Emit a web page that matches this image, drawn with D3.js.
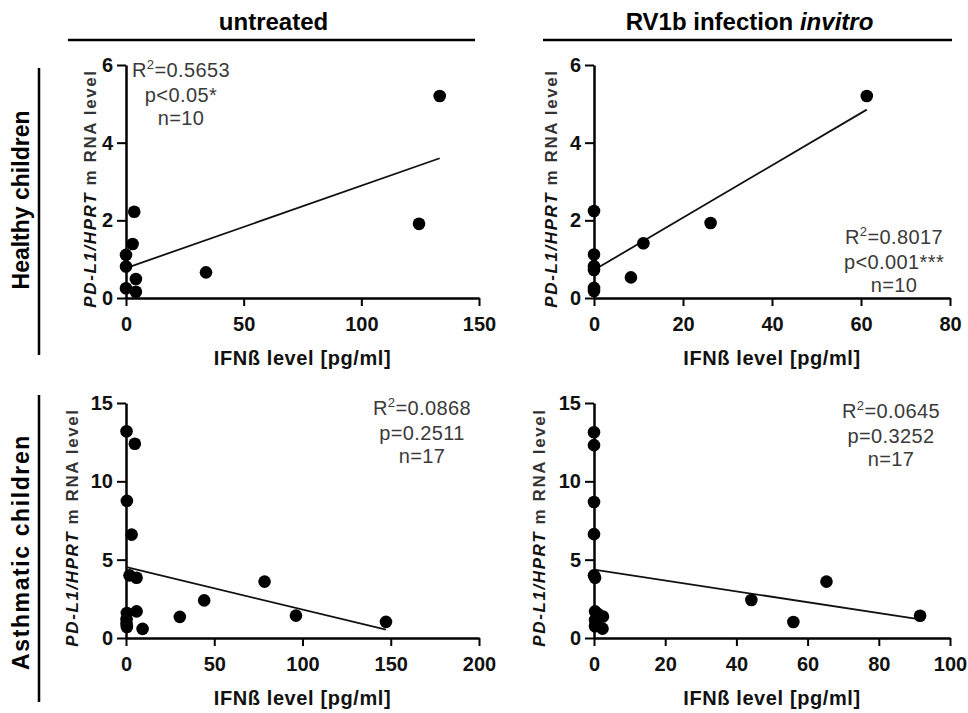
<!DOCTYPE html>
<html>
<head>
<meta charset="utf-8">
<script src="https://cdn.jsdelivr.net/npm/d3@7"></script>
<style>
  body { margin: 0; background: #fff; }
  svg { display: block; font-family: "Liberation Sans", Arial, sans-serif; }
</style>
</head>
<body>
<div id="chart"></div>
<script>
// PD-L1 vs IFNß scatter panels (healthy / asthmatic, untreated / RV1b)

// ----- data -----
const columnTitles = ["untreated", "RV1b infection"];
const rowTitles = ["Healthy children", "Asthmatic children"];

// healthy, untreated
const healthyUntreatedX = [133.3, 124.5, 34.0, 3.5, 2.8, 0.0, 0.0, 4.2, 0.0, 4.2];
const healthyUntreatedY = [5.20, 1.91, 0.66, 2.22, 1.39, 1.11, 0.81, 0.49, 0.25, 0.16];
const healthyUntreatedStats = ["0.5653", "p<0.05*", "n=10"];

// healthy, RV1b
const healthyRvX = [61.3, 26.2, 11.1, 8.3, 0.0, 0.0, 0.0, 0.0, 0.0, 0.0];
const healthyRvY = [5.20, 1.93, 1.41, 0.53, 2.24, 1.12, 0.82, 0.72, 0.26, 0.18];
const healthyRvStats = ["0.8017", "p<0.001***", "n=10"];

// asthmatic, untreated
const asthmaUntreatedX = [0.3, 5.0, 0.5, 3.2, 2.0, 6.0, 78.5, 44.3, 30.5, 96.3, 147.3, 6.0, 9.4, 0.5, 0.3, 0.3, 0.5];
const asthmaUntreatedY = [13.2, 12.4, 8.75, 6.6, 4.0, 3.85, 3.6, 2.4, 1.35, 1.43, 1.03, 1.7, 0.58, 1.6, 1.2, 0.9, 0.7];
const asthmaUntreatedStats = ["0.0868", "p=0.2511", "n=17"];

// asthmatic, RV1b
const asthmaRvX = [0.0, 0.0, 0.0, 0.0, 0.0, 0.3, 65.3, 44.2, 56.0, 91.6, 0.3, 1.0, 2.5, 0.3, 0.5, 0.3, 2.4];
const asthmaRvY = [13.13, 12.31, 8.68, 6.63, 4.0, 3.85, 3.6, 2.43, 1.02, 1.42, 1.7, 1.55, 1.37, 1.15, 0.9, 0.75, 0.6];
const asthmaRvStats = ["0.0645", "p=0.3252", "n=17"];

// axis ticks
const xTicksHealthyUntreated = [0, 50, 100, 150];
const xTicksHealthyRv = [0, 20, 40, 60, 80];
const xTicksAsthmaUntreated = [0, 50, 100, 150, 200];
const xTicksAsthmaRv = [0, 20, 40, 60, 80, 100];
const yTicksHealthy = [0, 2, 4, 6];
const yTicksAsthma = [0, 5, 10, 15];

const xLabel = "IFNß level [pg/ml]";

// ----- layout -----
const width = 968, height = 713;
const colX = [[126, 479], [594, 950]];
const rowY = [[298, 65], [638, 403]];

const panels = [
  { col: 0, row: 0, xs: healthyUntreatedX, ys: healthyUntreatedY, xMax: 150, yMax: 6,
    xTicks: xTicksHealthyUntreated, yTicks: yTicksHealthy, stats: healthyUntreatedStats,
    statX: 181, statY: 77, yTitleX: 96 },
  { col: 1, row: 0, xs: healthyRvX, ys: healthyRvY, xMax: 80, yMax: 6,
    xTicks: xTicksHealthyRv, yTicks: yTicksHealthy, stats: healthyRvStats,
    statX: 894, statY: 244, yTitleX: 557 },
  { col: 0, row: 1, xs: asthmaUntreatedX, ys: asthmaUntreatedY, xMax: 200, yMax: 15,
    xTicks: xTicksAsthmaUntreated, yTicks: yTicksAsthma, stats: asthmaUntreatedStats,
    statX: 422, statY: 415, yTitleX: 78 },
  { col: 1, row: 1, xs: asthmaRvX, ys: asthmaRvY, xMax: 100, yMax: 15,
    xTicks: xTicksAsthmaRv, yTicks: yTicksAsthma, stats: asthmaRvStats,
    statX: 891, statY: 418, yTitleX: 545 }
];

const svg = d3.select("#chart").append("svg")
  .attr("width", width)
  .attr("height", height);

// column headers with rule underneath
const headerLines = [[68, 475], [543, 952]];
columnTitles.forEach((t, i) => {
  const cx = (headerLines[i][0] + headerLines[i][1]) / 2;
  const txt = svg.append("text")
    .attr("x", cx + 2)
    .attr("y", 30)
    .attr("text-anchor", "middle")
    .style("font-size", "24px")
    .style("font-weight", "bold")
    .text(t);
  if (i === 1) {
    txt.append("tspan").text(" ");
    txt.append("tspan").style("font-style", "italic").text("invitro");
  }
  svg.append("line")
    .attr("x1", headerLines[i][0]).attr("x2", headerLines[i][1])
    .attr("y1", 40).attr("y2", 40)
    .attr("stroke", "#000").attr("stroke-width", 2.5);
});

// row headers with rule on the side
const rowLines = [[68, 355], [395, 702]];
const rowTextY = [200, 552];
rowTitles.forEach((t, i) => {
  svg.append("text")
    .attr("transform", "translate(29," + rowTextY[i] + ") rotate(-90)")
    .attr("text-anchor", "middle")
    .style("font-size", "23px")
    .style("font-weight", "bold")
    .style("letter-spacing", i === 1 ? "1.6px" : "0px")
    .text(t);
  svg.append("line")
    .attr("x1", 39).attr("x2", 39)
    .attr("y1", rowLines[i][0]).attr("y2", rowLines[i][1])
    .attr("stroke", "#000").attr("stroke-width", 2.5);
});

panels.forEach(p => {
  const x = d3.scaleLinear().domain([0, p.xMax]).range(colX[p.col]);
  const y = d3.scaleLinear().domain([0, p.yMax]).range(rowY[p.row]);
  const g = svg.append("g");

  // axes
  const yAxis = g.append("g")
    .attr("transform", "translate(" + colX[p.col][0] + ",0)")
    .call(d3.axisLeft(y).tickValues(p.yTicks).tickFormat(d3.format("d"))
      .tickSize(9).tickSizeOuter(0).tickPadding(4));
  const xAxis = g.append("g")
    .attr("transform", "translate(0," + rowY[p.row][0] + ")")
    .call(d3.axisBottom(x).tickValues(p.xTicks).tickFormat(d3.format("d"))
      .tickSize(8).tickSizeOuter(0).tickPadding(11));
  [xAxis, yAxis].forEach(a => {
    a.select(".domain").attr("stroke-width", 2.5);
    a.selectAll(".tick line").attr("stroke-width", 2);
    a.selectAll(".tick text")
      .style("font-size", "20px")
      .style("font-weight", "bold")
      .style("font-family", "'Liberation Sans', Arial, sans-serif")
      .attr("fill", "#111");
  });

  // axis titles
  g.append("text")
    .attr("x", (colX[p.col][0] + colX[p.col][1]) / 2)
    .attr("y", rowY[p.row][0] + 67)
    .attr("text-anchor", "middle")
    .style("font-size", "20px")
    .style("font-weight", "bold")
    .style("letter-spacing", "0.6px")
    .attr("fill", "#111")
    .text(xLabel);

  const yt = g.append("text")
    .attr("transform", "translate(" + p.yTitleX + "," + ((rowY[p.row][0] + rowY[p.row][1]) / 2 + 7) + ") rotate(-90)")
    .attr("text-anchor", "middle")
    .style("font-size", "17px")
    .style("letter-spacing", "1.6px")
    .attr("fill", "#111");
  yt.append("tspan").style("font-weight", "bold").style("font-style", "italic").text("PD-L1/HPRT");
  yt.append("tspan").style("font-weight", "bold").attr("fill", "#333").text(" m RNA level");

  // least squares fit, drawn across the data range
  const n = p.xs.length;
  const mx = d3.mean(p.xs), my = d3.mean(p.ys);
  let sxy = 0, sxx = 0;
  for (let i = 0; i < n; i++) {
    sxy += (p.xs[i] - mx) * (p.ys[i] - my);
    sxx += (p.xs[i] - mx) * (p.xs[i] - mx);
  }
  const slope = sxy / sxx, icpt = my - slope * mx;
  const x0 = d3.min(p.xs), x1 = d3.max(p.xs);
  g.append("line")
    .attr("x1", x(x0)).attr("y1", y(icpt + slope * x0))
    .attr("x2", x(x1)).attr("y2", y(icpt + slope * x1))
    .attr("stroke", "#111").attr("stroke-width", 1.8);

  // points
  g.selectAll("circle")
    .data(p.xs.map((v, i) => [v, p.ys[i]]))
    .enter()
    .append("circle")
    .attr("cx", d => x(d[0]))
    .attr("cy", d => y(d[1]))
    .attr("r", 6.3)
    .attr("fill", "#000");

  // stats block
  const st = g.append("g").style("font-size", "20px").style("letter-spacing", "0.4px").attr("fill", "#3a3a3a");
  const r2 = st.append("text").attr("x", p.statX).attr("y", p.statY).attr("text-anchor", "middle");
  r2.append("tspan").text("R");
  r2.append("tspan").attr("dy", -8).style("font-size", "13px").text("2");
  r2.append("tspan").attr("dy", 8).text("=" + p.stats[0]);
  st.append("text").attr("x", p.statX).attr("y", p.statY + 25).attr("text-anchor", "middle").text(p.stats[1]);
  st.append("text").attr("x", p.statX).attr("y", p.statY + 48).attr("text-anchor", "middle").text(p.stats[2]);
});
</script>
</body>
</html>
